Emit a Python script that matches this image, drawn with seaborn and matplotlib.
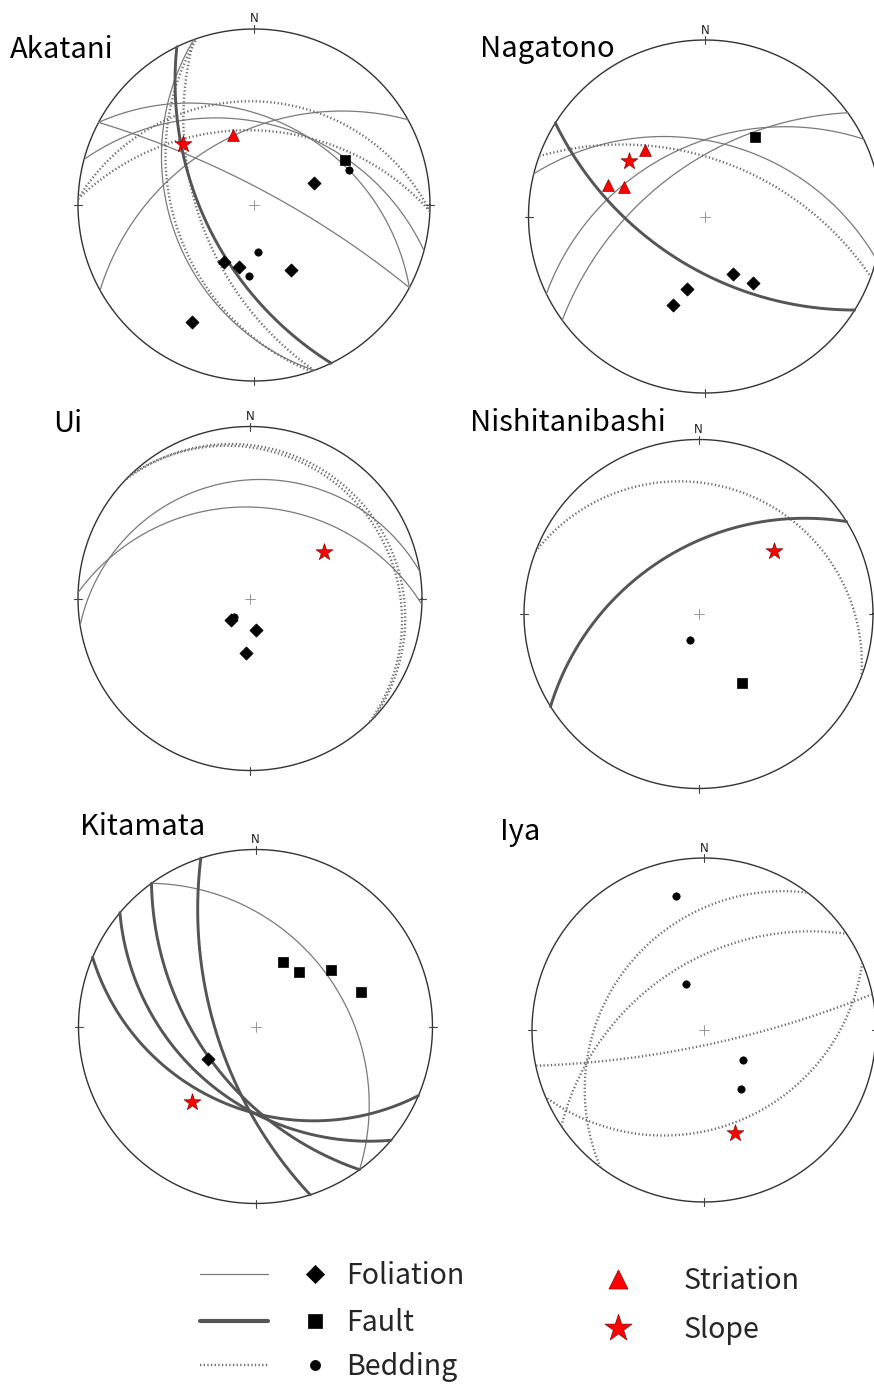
import numpy as np
import pandas as pd
import matplotlib
matplotlib.use("Agg")
import matplotlib.pyplot as plt
import seaborn as sns

# ---------------------------------------------------------------------------
# Field measurements
# planes: (strike, dip), right-hand rule (dip direction = strike + 90)
# lines / poles: (trend, plunge)
# ---------------------------------------------------------------------------
AKATANI_FOLIATION = [(160, 39), (298, 79), (298, 38), (285, 40), (241, 46)]
AKATANI_FAULT = [(154, 58)]
AKATANI_BEDDING = [(160, 55), (161, 41), (272, 29), (272, 44)]
AKATANI_FOLIATION_POLES = [(70, 50), (208, 50), (194, 50), (150, 44), (208, 16)]
AKATANI_FAULT_POLES = [(64, 30)]
AKATANI_BEDDING_POLES = [(70, 30), (175, 60), (184, 46)]
AKATANI_STRIATION = [(343, 45)]
AKATANI_SLOPE = [(311, 34)]

NAGATONO_FOLIATION = [(284, 44), (244, 46), (234, 57)]
NAGATONO_FAULT = [(122, 58)]
NAGATONO_BEDDING = [(290, 54)]
NAGATONO_FOLIATION_POLES = [(154, 50), (144, 40), (194, 44), (200, 34)]
NAGATONO_FAULT_POLES = [(32, 34)]
NAGATONO_BEDDING_POLES = []
NAGATONO_STRIATION = [(318, 36), (288, 30), (290, 38)]
NAGATONO_SLOPE = [(306, 34)]

UI_FOLIATION = [(261, 21), (272, 34)]
UI_FAULT = []
UI_BEDDING = [(314, 9), (316, 10.5)]
UI_FOLIATION_POLES = [(221, 71), (170, 69), (184, 55)]
UI_FAULT_POLES = []
UI_BEDDING_POLES = [(220, 74)]
UI_STRIATION = []
UI_SLOPE = [(58, 36)]

NISHITANIBASHI_FOLIATION = []
NISHITANIBASHI_FAULT = [(238, 49)]
NISHITANIBASHI_BEDDING = [(291, 17)]
NISHITANIBASHI_FOLIATION_POLES = []
NISHITANIBASHI_FAULT_POLES = [(148, 40)]
NISHITANIBASHI_BEDDING_POLES = [(199, 72)]
NISHITANIBASHI_STRIATION = []
NISHITANIBASHI_SLOPE = [(50, 31)]

KITAMATA_FOLIATION = [(324, 37)]
KITAMATA_FAULT = [(162, 65), (144, 55), (130, 45), (113, 40)]
KITAMATA_BEDDING = []
KITAMATA_FOLIATION_POLES = [(235, 54)]
KITAMATA_FAULT_POLES = [(23, 47), (39, 47), (53, 34), (72, 26)]
KITAMATA_BEDDING_POLES = []
KITAMATA_STRIATION = []
KITAMATA_SLOPE = [(220, 32)]

IYA_FOLIATION = []
IYA_FAULT = []
IYA_BEDDING = [(217, 30), (236, 48), (78, 80), (67, 31)]
IYA_FOLIATION_POLES = []
IYA_FAULT_POLES = []
IYA_BEDDING_POLES = [(348, 13), (338, 58), (128, 58), (148, 46)]
IYA_STRIATION = []
IYA_SLOPE = [(163, 26)]

SITE_NAMES = ["Akatani", "Nagatono", "Ui", "Nishitanibashi", "Kitamata", "Iya"]
SITES = {
    "Akatani": (AKATANI_FOLIATION, AKATANI_FAULT, AKATANI_BEDDING,
                AKATANI_FOLIATION_POLES, AKATANI_FAULT_POLES, AKATANI_BEDDING_POLES,
                AKATANI_STRIATION, AKATANI_SLOPE),
    "Nagatono": (NAGATONO_FOLIATION, NAGATONO_FAULT, NAGATONO_BEDDING,
                 NAGATONO_FOLIATION_POLES, NAGATONO_FAULT_POLES, NAGATONO_BEDDING_POLES,
                 NAGATONO_STRIATION, NAGATONO_SLOPE),
    "Ui": (UI_FOLIATION, UI_FAULT, UI_BEDDING,
           UI_FOLIATION_POLES, UI_FAULT_POLES, UI_BEDDING_POLES,
           UI_STRIATION, UI_SLOPE),
    "Nishitanibashi": (NISHITANIBASHI_FOLIATION, NISHITANIBASHI_FAULT, NISHITANIBASHI_BEDDING,
                       NISHITANIBASHI_FOLIATION_POLES, NISHITANIBASHI_FAULT_POLES,
                       NISHITANIBASHI_BEDDING_POLES, NISHITANIBASHI_STRIATION,
                       NISHITANIBASHI_SLOPE),
    "Kitamata": (KITAMATA_FOLIATION, KITAMATA_FAULT, KITAMATA_BEDDING,
                 KITAMATA_FOLIATION_POLES, KITAMATA_FAULT_POLES, KITAMATA_BEDDING_POLES,
                 KITAMATA_STRIATION, KITAMATA_SLOPE),
    "Iya": (IYA_FOLIATION, IYA_FAULT, IYA_BEDDING,
            IYA_FOLIATION_POLES, IYA_FAULT_POLES, IYA_BEDDING_POLES,
            IYA_STRIATION, IYA_SLOPE),
}

LEGEND_LINES = ["Foliation", "Fault", "Bedding"]
LEGEND_RED = ["Striation", "Slope"]

# ---------------------------------------------------------------------------
# Page layout (pixels): net centre x, centre y, radius, title baseline x, y
# ---------------------------------------------------------------------------
W, H = 874, 1387
LAYOUT = {
    "Akatani":        (254.0, 205.0, 176.0, 10, 58),
    "Nagatono":       (705.0, 216.5, 176.5, 480, 57),
    "Ui":             (250.0, 598.5, 172.0, 53, 432),
    "Nishitanibashi": (698.5, 614.0, 174.5, 470, 431),
    "Kitamata":       (255.5, 1026.5, 177.0, 80, 835),
    "Iya":            (704.0, 1030.0, 172.0, 500, 840),
}

THIN = dict(color="#7a7a7a", linewidth=0.9, linestyle="-")
THICK = dict(color="#555555", linewidth=2.1, linestyle="-")
DOTTED = dict(color="#6e6e6e", linewidth=1.7, linestyle=(0, (0.55, 1.0)))
PRIMITIVE = "#333333"

MARKERS = {
    "foliation": dict(marker="D", s=45, color="black", edgecolor="black", linewidth=0.5),
    "fault": dict(marker="s", s=58, color="black", edgecolor="black", linewidth=0.5),
    "bedding": dict(marker="o", s=28, color="black", edgecolor="black", linewidth=0.5),
    "striation": dict(marker="^", s=72, color="#ff0000", edgecolor="#8b0000", linewidth=0.5),
    "slope": dict(marker="*", s=160, color="#ff0000", edgecolor="#8b0000", linewidth=0.5),
}


def project_line(trend, plunge):
    """Lower-hemisphere equal-angle (Wulff) projection of a line."""
    t = np.radians(np.asarray(trend, float))
    p = np.radians(np.asarray(plunge, float))
    r = np.tan((np.pi / 2 - p) / 2)
    return r * np.sin(t), r * np.cos(t)


def great_circle(strike, dip, n=241):
    s = np.radians(strike)
    d = np.radians(dip)
    dd = s + np.pi / 2
    sv = np.array([np.sin(s), np.cos(s), 0.0])
    dv = np.array([np.sin(dd) * np.cos(d), np.cos(dd) * np.cos(d), -np.sin(d)])
    t = np.linspace(0, np.pi, n)
    v = np.outer(np.cos(t), sv) + np.outer(np.sin(t), dv)
    plunge = np.degrees(np.arcsin(np.clip(-v[:, 2], -1, 1)))
    trend = np.degrees(np.arctan2(v[:, 0], v[:, 1]))
    return project_line(trend, plunge)


def circles_frame(planes):
    rows = []
    for i, (strike, dip) in enumerate(planes):
        x, y = great_circle(strike, dip)
        rows.append(pd.DataFrame({"x": x, "y": y, "plane": i}))
    return pd.concat(rows, ignore_index=True)


def points_frame(lines):
    tr = [a for a, _ in lines]
    pl = [b for _, b in lines]
    x, y = project_line(tr, pl)
    return pd.DataFrame({"x": np.atleast_1d(x), "y": np.atleast_1d(y)})


sns.set_theme(style="white")
plt.rcParams["font.family"] = ["Noto Sans CJK JP", "DejaVu Sans"]

fig = plt.figure(figsize=(W / 100, H / 100), dpi=100)
fig.patch.set_facecolor("white")

K = 1.12
for name in SITE_NAMES:
    cx, cy, R, tx, ty = LAYOUT[name]
    (fol, flt, bed, fol_p, flt_p, bed_p, stri, slope) = SITES[name]
    ax = fig.add_axes([(cx - R * K) / W, 1 - (cy + R * K) / H, 2 * R * K / W, 2 * R * K / H])
    ax.set_xlim(-K, K)
    ax.set_ylim(-K, K)
    ax.set_aspect("equal")

    th = np.linspace(0, 2 * np.pi, 721)
    ax.plot(np.cos(th), np.sin(th), color=PRIMITIVE, linewidth=1.0, zorder=3)
    tick = 4.0 / R
    for ang in (0, 90, 180, 270):
        a = np.radians(ang)
        ux, uy = np.sin(a), np.cos(a)
        ax.plot([ux * (1 - tick), ux * (1 + tick)], [uy * (1 - tick), uy * (1 + tick)],
                color="#444444", linewidth=0.8, zorder=3)
    c = 5.0 / R
    ax.plot([-c, c], [0, 0], color="#888888", linewidth=0.6, zorder=3)
    ax.plot([0, 0], [-c, c], color="#888888", linewidth=0.6, zorder=3)
    ax.text(0, 1 + 10.0 / R, "N", ha="center", va="center", fontsize=8.5,
            family="DejaVu Sans", color="#222222")

    for planes, style in ((fol, THIN), (bed, DOTTED), (flt, THICK)):
        if planes:
            df = circles_frame(planes)
            sns.lineplot(data=df, x="x", y="y", units="plane", estimator=None, sort=False,
                         ax=ax, legend=False, zorder=4, **style)

    for lines, key in ((fol_p, "foliation"), (flt_p, "fault"), (bed_p, "bedding"),
                       (stri, "striation"), (slope, "slope")):
        if lines:
            pts = points_frame(lines)
            sns.scatterplot(data=pts, x="x", y="y", ax=ax, legend=False, zorder=6,
                            **MARKERS[key])
    ax.axis("off")

    fig.text(tx / W, 1 - ty / H, name, ha="left", va="baseline", fontsize=21, color="black")

# ---------------------------------------------------------------------------
# Key
# ---------------------------------------------------------------------------
key = fig.add_axes([0, 0, 1, 1])
key.set_xlim(0, W)
key.set_ylim(H, 0)
key.axis("off")
key.patch.set_alpha(0)

rows_y = [1274, 1321, 1365]
for label, style, mk, y in zip(LEGEND_LINES, (THIN, THICK, DOTTED),
                               ("foliation", "fault", "bedding"), rows_y):
    st = dict(style)
    if mk == "fault":
        st["linewidth"] = 3.0
    key.plot([200, 268], [y, y], **st)
    m = MARKERS[mk]
    key.scatter([315], [y], marker=m["marker"], s=m["s"] * 1.9, c=m["color"],
                edgecolors=m["edgecolor"], linewidths=m["linewidth"])
    key.text(346, y + 10, label, ha="left", va="baseline", fontsize=20.5)

for label, mk, y in zip(LEGEND_RED, ("striation", "slope"), (1279, 1328)):
    m = MARKERS[mk]
    key.scatter([618], [y], marker=m["marker"], s=m["s"] * 2.6, c=m["color"],
                edgecolors=m["edgecolor"], linewidths=m["linewidth"])
    key.text(684, y + 10, label, ha="left", va="baseline", fontsize=20.5)

fig.savefig("out.png", dpi=100, facecolor="white")
